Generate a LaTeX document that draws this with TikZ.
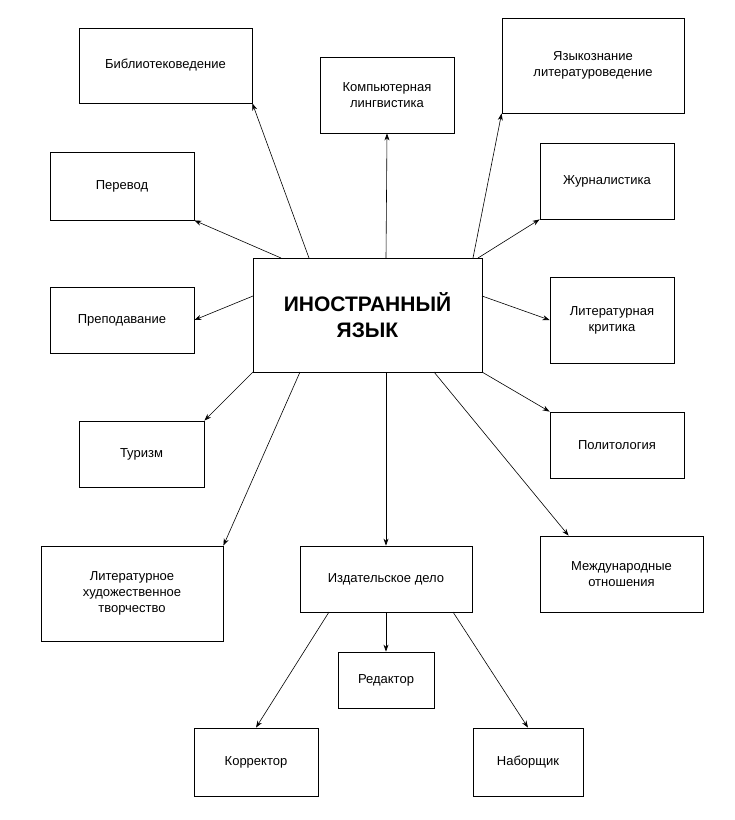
\documentclass[tikz,border=0pt]{standalone}
\usepackage{fontspec}
\setmainfont{Liberation Sans}
\usetikzlibrary{arrows.meta,calc}
\begin{document}
\begin{tikzpicture}[x=1pt,y=-1pt,
  box/.style={draw,thick,fill=white,align=center,inner sep=2pt,font=\fontsize{13}{16}\selectfont},
  arr/.style={-{Stealth[length=7pt,width=5pt]},line width=0.6pt}]
\useasboundingbox (0,0) rectangle (735,820);
\newcommand\bx[6]{\node[box,minimum width=#3-#2,minimum height=#5-#4] (#1) at ({(#2+#3)/2},{(#4+#5)/2}) {#6};}
\bx{bib}{79}{252}{28}{103}{Библиотековедение}
\bx{komp}{320}{454}{57}{133}{Компьютерная\\лингвистика}
\bx{yaz}{502}{684}{18}{113}{Языкознание\\литературоведение}
\bx{per}{50}{194}{152}{220}{Перевод}
\bx{zh}{540}{674}{143}{219}{Журналистика}
\node[draw,thick,minimum width=229,minimum height=114,align=center,font=\fontsize{21}{26}\selectfont\bfseries] (main) at (367.5,315) {ИНОСТРАННЫЙ\\ЯЗЫК};
\bx{pre}{50}{194}{287}{353}{Преподавание}
\bx{krit}{550}{674}{277}{363}{Литературная\\критика}
\bx{tur}{79}{204}{421}{487}{Туризм}
\bx{pol}{550}{684}{412}{478}{Политология}
\bx{hud}{41}{223}{546}{641}{Литературное\\художественное\\творчество}
\bx{izd}{300}{472}{546}{612}{Издательское дело}
\bx{mez}{540}{703}{536}{612}{Международные\\отношения}
\bx{red}{338}{434}{652}{708}{Редактор}
\bx{kor}{194}{318}{728}{796}{Корректор}
\bx{nab}{473}{583}{728}{796}{Наборщик}
\coordinate (s1) at (309,258); \coordinate (s2) at (386,258); \coordinate (s3) at (473,258);
\coordinate (s4) at (281,258); \coordinate (s5) at (478,258); \coordinate (s6) at (253,296);
\coordinate (s7) at (482,296); \coordinate (s8) at (253,372); \coordinate (s9) at (482,372);
\coordinate (s10) at (300,372); \coordinate (s11) at (386,372); \coordinate (s12) at (434,372);
\coordinate (t1) at (386,612); \coordinate (t2) at (329,612); \coordinate (t3) at (453,612);
\draw[arr] (s1) -- (bib.south east);
\draw[arr] (s2) -- (komp.south);
\draw[arr] (s3) -- (yaz.south west);
\draw[arr] (s4) -- (per.south east);
\draw[arr] (s5) -- (zh.south west);
\draw[arr] (s6) -- (pre.east);
\draw[arr] (s7) -- (krit.west);
\draw[arr] (s8) -- (tur.north east);
\draw[arr] (s9) -- (pol.north west);
\draw[arr] (s10) -- (hud.north east);
\draw[arr] (s11) -- (izd.north);
\draw[arr] (s12) -- ($(mez.north west)+(29,0)$);
\draw[arr] (t1) -- (red.north);
\draw[arr] (t2) -- (kor.north);
\draw[arr] (t3) -- (nab.north);
\end{tikzpicture}
\end{document}
